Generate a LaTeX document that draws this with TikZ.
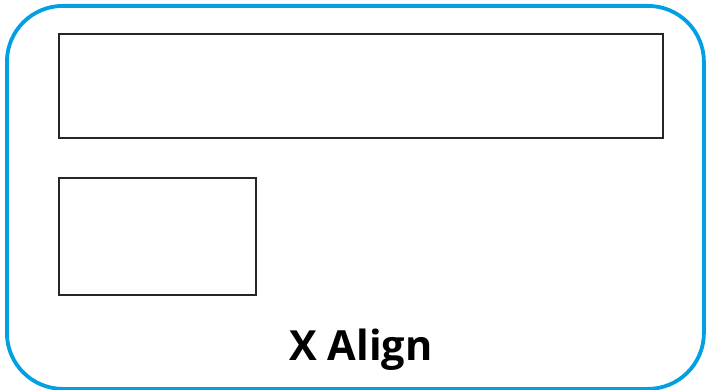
\documentclass[tikz,border=0pt]{standalone}
\usepackage{fontspec}
\setmainfont{Open Sans}
\begin{document}
\begin{tikzpicture}[x=1pt,y=-1pt,
  outerbox/.style={draw={rgb,255:red,0;green,160;blue,226}, line width=3.8pt, rounded corners=56pt},
  innerbox/.style={draw=black!85, line width=1.7pt},
  lbl/.style={font=\fontsize{41.5}{46}\selectfont\bfseries, inner sep=0pt}]
\useasboundingbox (0,0) rectangle (707,390);
\node[outerbox, minimum width=697pt, minimum height=383pt, anchor=north west, inner sep=0pt] (frame) at (5,4) {};
\node[innerbox, minimum width=604pt, minimum height=104pt, anchor=north west, inner sep=0pt] (wide) at (58,33) {};
\node[innerbox, minimum width=197pt, minimum height=117pt, anchor=north west, inner sep=0pt] (small) at (58,177) {};
\node[lbl, anchor=base] (title) at (361,360) {X Align};
\end{tikzpicture}
\end{document}
